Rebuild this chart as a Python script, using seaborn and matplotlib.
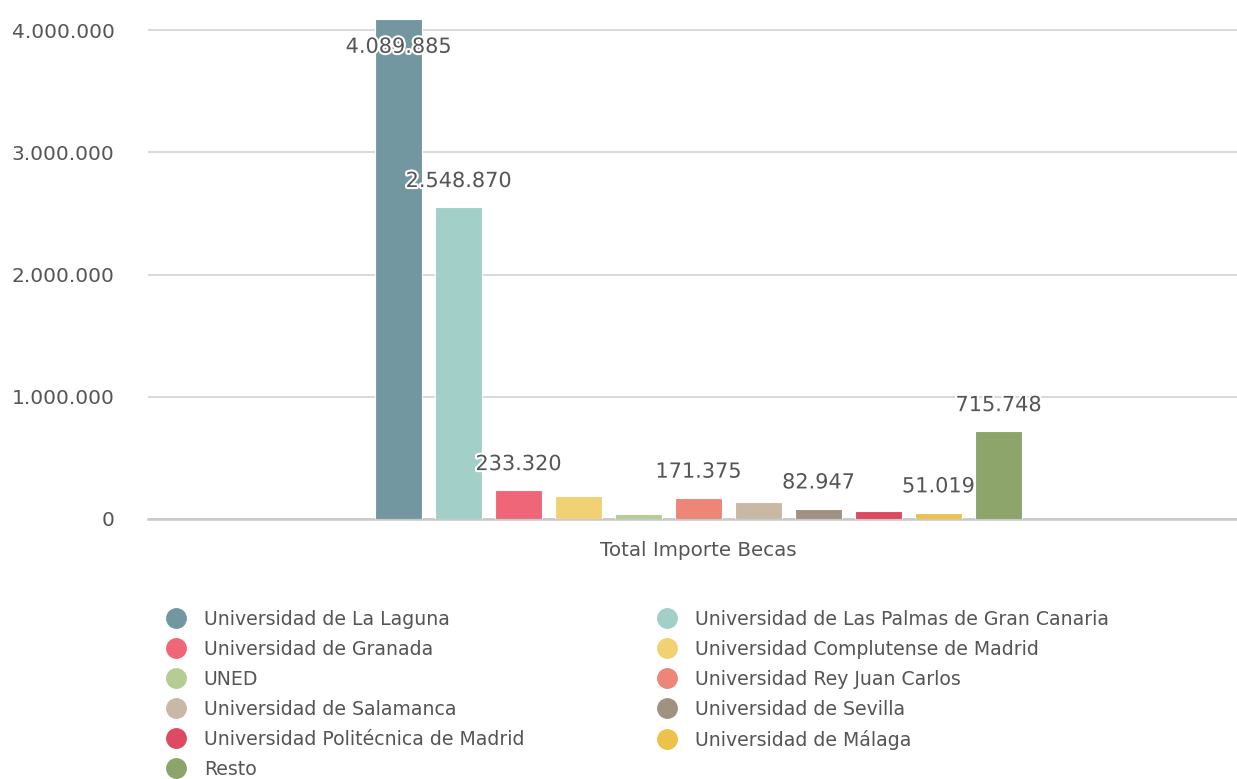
import matplotlib
matplotlib.use("Agg")
import matplotlib.pyplot as plt
import matplotlib.patheffects as pe
from matplotlib.lines import Line2D
from matplotlib.ticker import FuncFormatter
import seaborn as sns

# Data
universidades = [
    "Universidad de La Laguna",
    "Universidad de Las Palmas de Gran Canaria",
    "Universidad de Granada",
    "Universidad Complutense de Madrid",
    "UNED",
    "Universidad Rey Juan Carlos",
    "Universidad de Salamanca",
    "Universidad de Sevilla",
    "Universidad Politécnica de Madrid",
    "Universidad de Málaga",
    "Resto",
]
importes = [4089885, 2548870, 233320, 192000, 40000, 171375, 135000, 82947, 62000, 51019, 715748]
colores = ["#7397a0", "#a2cfc8", "#ef6679", "#f2d074", "#b5cc93", "#ed8677",
           "#c9b8a6", "#a09282", "#dc4b62", "#ecc24b", "#8da46a"]
# labels that are visible in the original (others hidden by overlap)
etiquetas_visibles = [0, 1, 2, 5, 7, 9, 10]

sns.set_style("white")
plt.rcParams["font.family"] = ["DejaVu Sans"]
txt = "#555555"

def miles(v, pos=None):
    return f"{int(round(v)):,}".replace(",", ".")

fig = plt.figure(figsize=(12.37, 7.79), dpi=100)
ax = fig.add_axes([148 / 1237, 1 - 519 / 779, (1237 - 148) / 1237, (519 - 15) / 779])

sns.barplot(x=universidades, y=importes, hue=universidades, palette=colores,
            order=universidades, hue_order=universidades, legend=False,
            saturation=1, width=0.783, edgecolor="white", linewidth=0.8,
            ax=ax, zorder=3)

ax.set_xlim(-4.175, 13.975)
ax.set_ylim(0, 4.1227e6)
ax.set_yticks([0, 1e6, 2e6, 3e6, 4e6])
ax.yaxis.set_major_formatter(FuncFormatter(miles))
ax.tick_params(axis="y", length=0, pad=24, labelsize=14.5, labelcolor=txt)
for t in ax.get_yticklabels():
    t.set_verticalalignment("center_baseline")
ax.set_xticks([])
ax.set_xlabel("Total Importe Becas", fontsize=14.3, color=txt)
ax.xaxis.set_label_coords((698 - 148) / 1089, -0.043)
ax.set_ylabel("")
ax.grid(axis="y", color="#d6d6d6", linewidth=1.3, zorder=0)
for s in ["top", "right", "left"]:
    ax.spines[s].set_visible(False)
ax.spines["bottom"].set_color("#c8c8c8")
ax.spines["bottom"].set_linewidth(1.8)

ymax = ax.get_ylim()[1]
for i in etiquetas_visibles:
    v = importes[i]
    off = 19
    # push the label inside when it would leave the plot area
    if v > ymax * 0.95:
        off = -20
    ax.annotate(miles(v), xy=(i, v), xytext=(0, off), textcoords="offset points",
                ha="center", va="center", fontsize=15, color=txt, zorder=5,
                path_effects=[pe.withStroke(linewidth=3, foreground="white")])

handles = [Line2D([], [], marker="o", linestyle="", markersize=14,
                  markerfacecolor=c, markeredgecolor=c) for c in colores]
izq = list(range(0, len(universidades), 2))
der = list(range(1, len(universidades), 2))
common = dict(loc="upper left", frameon=False, fontsize=13.6, labelcolor=txt,
              handlelength=1.05, handletextpad=0.95, labelspacing=0.58, borderpad=0,
              borderaxespad=0)
fig.legend([handles[i] for i in izq], [universidades[i] for i in izq],
           bbox_to_anchor=(166 / 1237, 1 - 610 / 779), **common)
fig.legend([handles[i] for i in der], [universidades[i] for i in der],
           bbox_to_anchor=(657 / 1237, 1 - 610 / 779), **common)

fig.savefig("out.png", dpi=100)
